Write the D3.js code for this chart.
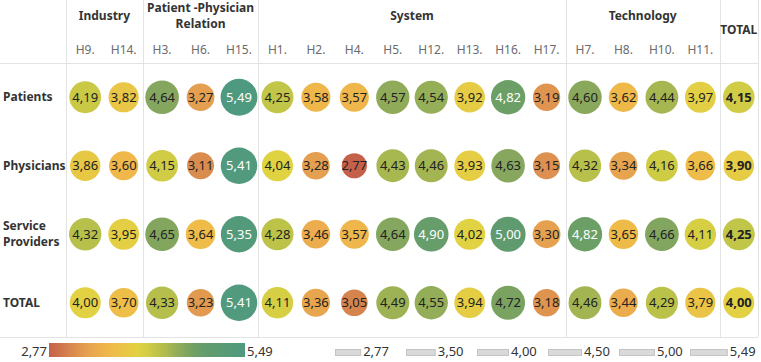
<!DOCTYPE html>
<html><head><meta charset="utf-8">
<script src="https://cdn.jsdelivr.net/npm/d3@7"></script>
<style>
html,body{margin:0;padding:0;background:#fff;}
svg{display:block;font-family:"Noto Sans",sans-serif;}
</style></head>
<body><svg id="chart" width="761" height="362"></svg>
<script>
// ---- data ----
const groups = [
  {name: ["Industry"], cols: ["H9.", "H14."]},
  {name: ["Patient -Physician", "Relation"], cols: ["H3.", "H6.", "H15."]},
  {name: ["System"], cols: ["H1.", "H2.", "H4.", "H5.", "H12.", "H13.", "H16.", "H17."]},
  {name: ["Technology"], cols: ["H7.", "H8.", "H10.", "H11."]},
  {name: ["TOTAL"], cols: ["TOTAL"]}
];
const columns = ["H9.", "H14.", "H3.", "H6.", "H15.", "H1.", "H2.", "H4.", "H5.", "H12.", "H13.", "H16.", "H17.", "H7.", "H8.", "H10.", "H11.", "TOTAL"];
const rows = ["Patients", "Physicians", "Service Providers", "TOTAL"];
const rowLabels = [["Patients"], ["Physicians"], ["Service", "Providers"], ["TOTAL"]];
const patients   = [4.19, 3.82, 4.64, 3.27, 5.49, 4.25, 3.58, 3.57, 4.57, 4.54, 3.92, 4.82, 3.19, 4.60, 3.62, 4.44, 3.97, 4.15];
const physicians = [3.86, 3.60, 4.15, 3.11, 5.41, 4.04, 3.28, 2.77, 4.43, 4.46, 3.93, 4.63, 3.15, 4.32, 3.34, 4.16, 3.66, 3.90];
const providers  = [4.32, 3.95, 4.65, 3.64, 5.35, 4.28, 3.46, 3.57, 4.64, 4.90, 4.02, 5.00, 3.30, 4.82, 3.65, 4.66, 4.11, 4.25];
const totals     = [4.00, 3.70, 4.33, 3.23, 5.41, 4.11, 3.36, 3.05, 4.49, 4.55, 3.94, 4.72, 3.18, 4.46, 3.44, 4.29, 3.79, 4.00];
const seriesValues = [patients, physicians, providers, totals];
const sizeLegendValues = [2.77, 3.50, 4.00, 4.50, 5.00, 5.49];
const colorStops = [2.77, 3.27, 3.60, 3.90, 4.05, 4.20, 4.43, 4.60, 4.82, 5.00, 5.49];
const colorRange = ["#c5614b", "#e49f50", "#f0b84a", "#e6cb44", "#dfd442", "#c8c846", "#a8b850", "#8aa85c", "#6c9f66", "#5f9b6e", "#4e9a80"];

const fmt = v => v.toFixed(2).replace(".", ",");
const minV = 2.77, maxV = 5.49;

const svg = d3.select("#chart");
const x = d3.scaleBand().domain(columns).range([66, 758]);
const y = d3.scaleBand().domain(rows).range([63, 337]);
const color = d3.scaleLinear().domain(colorStops).range(colorRange).interpolate(d3.interpolateRgb);
const area = d3.scaleLinear().domain([minV, maxV]).range([12.6 * 12.6, 18.4 * 18.4]);
const r = v => Math.sqrt(area(v));

// grid lines
const gridColor = "#e3e3e3";
const sepX = [66];
let acc = 0;
groups.forEach(g => { acc += g.cols.length; sepX.push(x(columns[acc - 1]) + x.bandwidth()); });
sepX.pop(); sepX.push(758);
svg.append("g").selectAll("line").data(sepX).join("line")
  .attr("x1", d => Math.round(d) + 0.5).attr("x2", d => Math.round(d) + 0.5)
  .attr("y1", 0).attr("y2", 337).attr("stroke", gridColor).attr("stroke-width", 1);
svg.append("g").selectAll("line").data([63, 337]).join("line")
  .attr("x1", 0).attr("x2", 758).attr("y1", d => d + 0.5).attr("y2", d => d + 0.5)
  .attr("stroke", gridColor).attr("stroke-width", 1);

// group headers
acc = 0;
groups.forEach(g => {
  const first = columns[acc];
  acc += g.cols.length;
  const last = columns[acc - 1];
  const cx = (x(first) + x(last) + x.bandwidth()) / 2;
  let ys;
  if (g.name[0] === "TOTAL") ys = [30];
  else if (g.name.length === 2) ys = [8, 24];
  else ys = [16];
  g.name.forEach((t, i) => {
    svg.append("text").attr("x", cx).attr("y", ys[i]).attr("dy", "0.35em")
      .attr("text-anchor", "middle").attr("font-size", 12).attr("font-weight", "bold")
      .attr("fill", "#333").text(t);
  });
});

// column headers
svg.append("g").selectAll("text").data(columns.filter(c => c !== "TOTAL")).join("text")
  .attr("x", d => x(d) + x.bandwidth() / 2).attr("y", 50).attr("dy", "0.35em")
  .attr("text-anchor", "middle").attr("font-size", 12).attr("fill", "#6b6b6b").text(d => d);

// row labels
rows.forEach((rw, i) => {
  const lines = rowLabels[i];
  const cy = y(rw) + y.bandwidth() / 2;
  lines.forEach((t, j) => {
    svg.append("text").attr("x", 3).attr("y", cy + (j - (lines.length - 1) / 2) * 16).attr("dy", "0.35em")
      .attr("font-size", 12).attr("font-weight", "bold").attr("fill", "#333").text(t);
  });
});

// circles
const cells = [];
rows.forEach((rw, i) => columns.forEach((c, j) => cells.push({row: rw, col: c, v: seriesValues[i][j]})));
const cg = svg.append("g").selectAll("g").data(cells).join("g")
  .attr("transform", d => `translate(${x(d.col) + x.bandwidth() / 2},${y(d.row) + y.bandwidth() / 2})`);
cg.append("circle").attr("r", d => r(d.v)).attr("fill", d => color(d.v));
cg.append("text").attr("text-anchor", "middle").attr("dy", "0.36em").attr("font-size", 13)
  .attr("font-weight", d => d.col === "TOTAL" ? "bold" : "normal")
  .attr("fill", d => d.v >= 4.8 ? "#ffffff" : "#222").text(d => fmt(d.v));

// color legend
const defs = svg.append("defs");
const grad = defs.append("linearGradient").attr("id", "lg").attr("x1", "0%").attr("x2", "100%");
d3.range(0, 21).forEach(i => {
  const v = minV + (maxV - minV) * i / 20;
  grad.append("stop").attr("offset", (i * 5) + "%").attr("stop-color", color(v));
});
const lx = d3.scaleLinear().domain([minV, maxV]).range([49, 245]);
svg.append("rect").attr("x", lx(minV)).attr("y", 343).attr("width", lx(maxV) - lx(minV)).attr("height", 14).attr("fill", "url(#lg)");
svg.append("text").attr("x", lx(minV) - 2).attr("y", 351).attr("dy", "0.35em").attr("text-anchor", "end")
  .attr("font-size", 13).attr("fill", "#333").text(fmt(minV));
svg.append("text").attr("x", lx(maxV) + 2).attr("y", 351).attr("dy", "0.35em")
  .attr("font-size", 13).attr("fill", "#333").text(fmt(maxV));

// size legend
const sx = d3.scaleBand().domain(sizeLegendValues).range([335, 761]).paddingInner(0);
const sl = svg.append("g").selectAll("g").data(sizeLegendValues).join("g")
  .attr("transform", d => `translate(${sx(d)},0)`);
sl.append("rect").attr("x", 0.5).attr("y", 349.5).attr("width", d => 2 * r(d)).attr("height", 6)
  .attr("fill", "#d9d9d9").attr("stroke", "#c4c4c4").attr("stroke-width", 1);
sl.append("text").attr("x", d => 2 * r(d) + 3).attr("y", 351).attr("dy", "0.35em")
  .attr("font-size", 13).attr("fill", "#333").text(d => fmt(d));
</script></body></html>
